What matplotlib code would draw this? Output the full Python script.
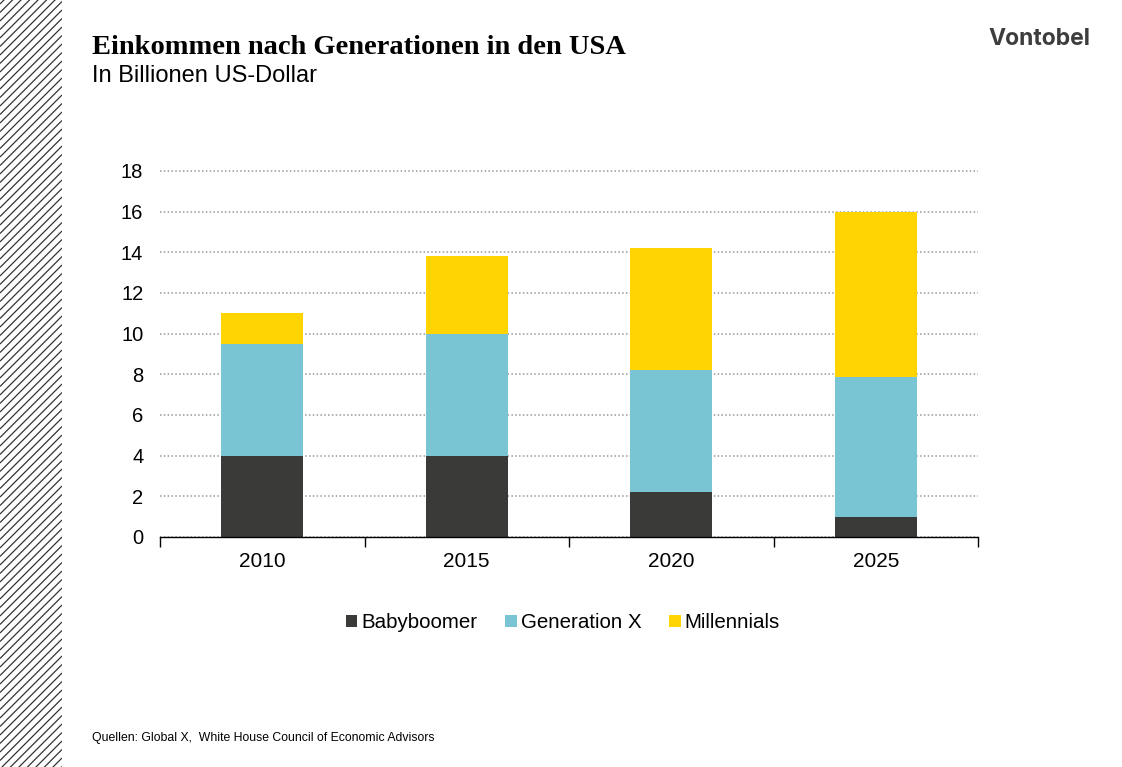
"""Stacked bars: Einkommen nach Generationen in den USA (Vontobel slide)."""
import matplotlib.pyplot as plt
import numpy as np

years = ["2010", "2015", "2020", "2025"]
babyboomer = [4.0, 4.0, 2.2, 1.0]
generation_x = [5.5, 6.0, 6.0, 6.85]
millennials = [1.5, 3.8, 6.0, 8.15]
series_names = ["Babyboomer", "Generation X", "Millennials"]
colors = ["#3a3b38", "#79c5d4", "#ffd400"]
y_ticks = [0, 2, 4, 6, 8, 10, 12, 14, 16, 18]

W, H = 1122, 767
fig = plt.figure(figsize=(W / 100, H / 100), dpi=100)

# hatched stripe on the left edge
hx = fig.add_axes([0, 0, 62 / W, 1])
hx.set_xlim(0, 62)
hx.set_ylim(0, H)
hx.axis("off")
for c in np.arange(-70, H + 10, 8.5):
    hx.plot([0, 62], [c, c + 62], color="#333333", lw=0.9, solid_capstyle="butt")

ax = fig.add_axes([160 / W, 1 - 537 / H, 818 / W, 366 / H])
x = np.arange(len(years))
bottom = np.zeros(len(years))
for name, vals, col in zip(series_names, [babyboomer, generation_x, millennials], colors):
    ax.bar(x, vals, width=0.4, bottom=bottom, color=col, label=name, zorder=3)
    bottom += np.array(vals)

ax.set_xlim(-0.5, len(years) - 0.5)
ax.set_ylim(0, 18)
ax.set_yticks(y_ticks)
ax.set_yticklabels([str(t) for t in y_ticks], fontsize=14.5, family="Liberation Sans")
ax.set_xticks(x)
ax.set_xticklabels(years, fontsize=15, family="Liberation Sans")
ax.tick_params(axis="y", length=0, pad=12)
ax.tick_params(axis="x", length=0, pad=11)
ax.set_xticks(np.arange(-0.5, len(years), 1.0), minor=True)
ax.tick_params(axis="x", which="minor", length=7, width=1, direction="out", color="black")
ax.yaxis.grid(True, color="#999999", linestyle=(0, (1, 1.5)), lw=1.1, zorder=0)
for gl in ax.get_ygridlines():
    gl.set_clip_on(False)
for s in ["top", "right", "left"]:
    ax.spines[s].set_visible(False)
ax.spines["bottom"].set_color("black")
ax.spines["bottom"].set_linewidth(1)
ax.spines["bottom"].set_zorder(4)

fig.legend(loc="center", bbox_to_anchor=(563 / W, 1 - 623 / H), ncol=3, frameon=False,
           handlelength=0.55, handleheight=0.55, handletextpad=0.2, columnspacing=1.35,
           prop={"family": "Liberation Sans", "size": 14.8})

fig.text(92 / W, 1 - 47 / H, "Einkommen nach Generationen in den USA", fontsize=20.5,
         fontweight="bold", family="Liberation Serif", va="center", ha="left")
fig.text(92 / W, 1 - 76 / H, "In Billionen US-Dollar", fontsize=17,
         family="Liberation Sans", va="center", ha="left")
fig.text(1090 / W, 1 - 39 / H, "Vontobel", fontsize=16.5, fontweight="bold",
         family="Inter", color="#3d3d3d", va="center", ha="right")
fig.text(92 / W, 1 - 738 / H, "Quellen: Global X,  White House Council of Economic Advisors",
         fontsize=8.8, family="Liberation Sans", va="center", ha="left")

fig.savefig("out.png", dpi=100)
